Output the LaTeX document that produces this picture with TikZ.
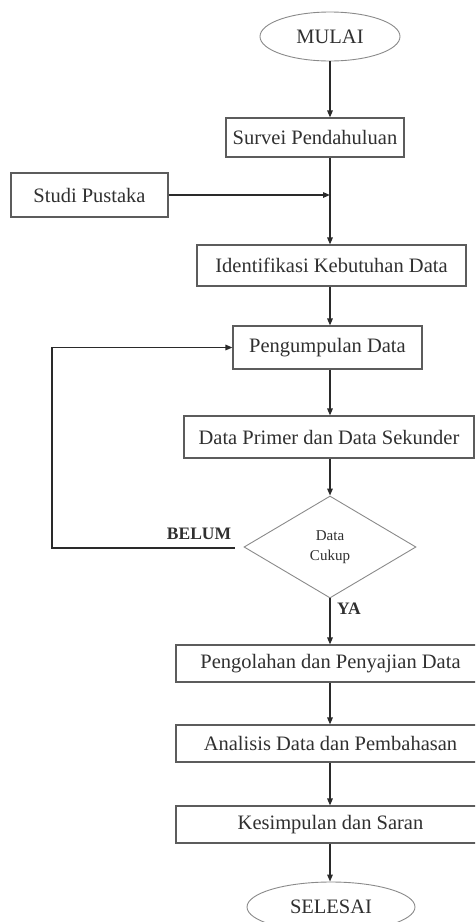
\documentclass[tikz,border=0pt]{standalone}
\usepackage{fontspec}
\setmainfont{Liberation Serif}
\usetikzlibrary{arrows.meta,shapes.geometric}
\definecolor{boxgray}{HTML}{5C5C5C}
\definecolor{linec}{HTML}{2A2A2A}
\definecolor{txt}{HTML}{303030}
\definecolor{thin}{HTML}{8A8A8A}
\begin{document}
\begin{tikzpicture}[x=1pt,y=-1pt,
  box/.style={draw=boxgray, line width=1.1pt, rectangle, inner sep=0pt, text=txt, font=\fontsize{20.5}{24}\selectfont},
  term/.style={draw=thin, line width=0.9pt, ellipse, inner sep=0pt, text=txt, font=\fontsize{20.5}{24}\selectfont},
  dec/.style={draw=thin, line width=0.9pt, diamond, inner sep=0pt, text=txt, align=center, font=\fontsize{15}{20}\selectfont},
  arr/.style={line width=1.4pt, draw=linec, -{Triangle[length=7pt,width=5.5pt]}},
  lbl/.style={font=\bfseries\fontsize{17.5}{20}\selectfont, text=txt}
]
\useasboundingbox (0,0) rectangle (475,922);
\clip (0,0) rectangle (475,922);

\node[term, minimum width=140pt, minimum height=49pt] (mulai) at (330,36.5) {MULAI};
\node[box, minimum width=178pt, minimum height=39pt] (survei) at (315,137.5) {Survei Pendahuluan};
\node[box, minimum width=157pt, minimum height=44pt] (studi) at (89.5,195) {Studi Pustaka};
\node[box, minimum width=269pt, minimum height=41pt] (ident) at (331.5,265.5) {Identifikasi Kebutuhan Data};
\node[box, minimum width=189pt, minimum height=43pt] (kumpul) at (327.5,347.5) {Pengumpulan Data};
\node[box, minimum width=290pt, minimum height=42pt] (primer) at (329,437) {Data Primer dan Data Sekunder};
\node[dec, minimum width=172pt, minimum height=102pt] (cukup) at (330,547) {Data\\Cukup};
\node[box, minimum width=309pt, minimum height=37pt] (olah) at (330.5,663.5) {Pengolahan dan Penyajian Data};
\node[box, minimum width=309pt, minimum height=37pt] (analisis) at (330.5,743.5) {Analisis Data dan Pembahasan};
\node[box, minimum width=309pt, minimum height=37pt] (simpul) at (330.5,824.5) {Kesimpulan dan Saran};
\node[term, minimum width=168pt, minimum height=50pt] (selesai) at (331,907) {SELESAI};

\node[lbl] (ya) at (349,609) {YA};
\node[lbl] (belum) at (199,534) {BELUM};

\draw[arr] (mulai.south) -- (mulai.south |- survei.north);
\draw[arr] (mulai.south |- survei.south) -- (mulai.south |- ident.north);
\draw[arr] (studi.east) -- (studi.east -| mulai.south);
\draw[arr] (mulai.south |- ident.south) -- (mulai.south |- kumpul.north);
\draw[arr] (mulai.south |- kumpul.south) -- (mulai.south |- primer.north);
\draw[arr] (primer.south -| cukup.north) -- (cukup.north);
\draw[arr] (cukup.south) -- (cukup.south |- olah.north);
\draw[arr] (cukup.south |- olah.south) -- (cukup.south |- analisis.north);
\draw[arr] (cukup.south |- analisis.south) -- (cukup.south |- simpul.north);
\draw[arr] (cukup.south |- simpul.south) -- (cukup.south |- selesai.north);

\coordinate (lp) at (52,449);
\draw[arr] ([xshift=-9pt,yshift=-1pt]cukup.west) -- ([yshift=-1pt]cukup.west -| lp) -- (lp |- kumpul.west) -- (kumpul.west);
\end{tikzpicture}
\end{document}
